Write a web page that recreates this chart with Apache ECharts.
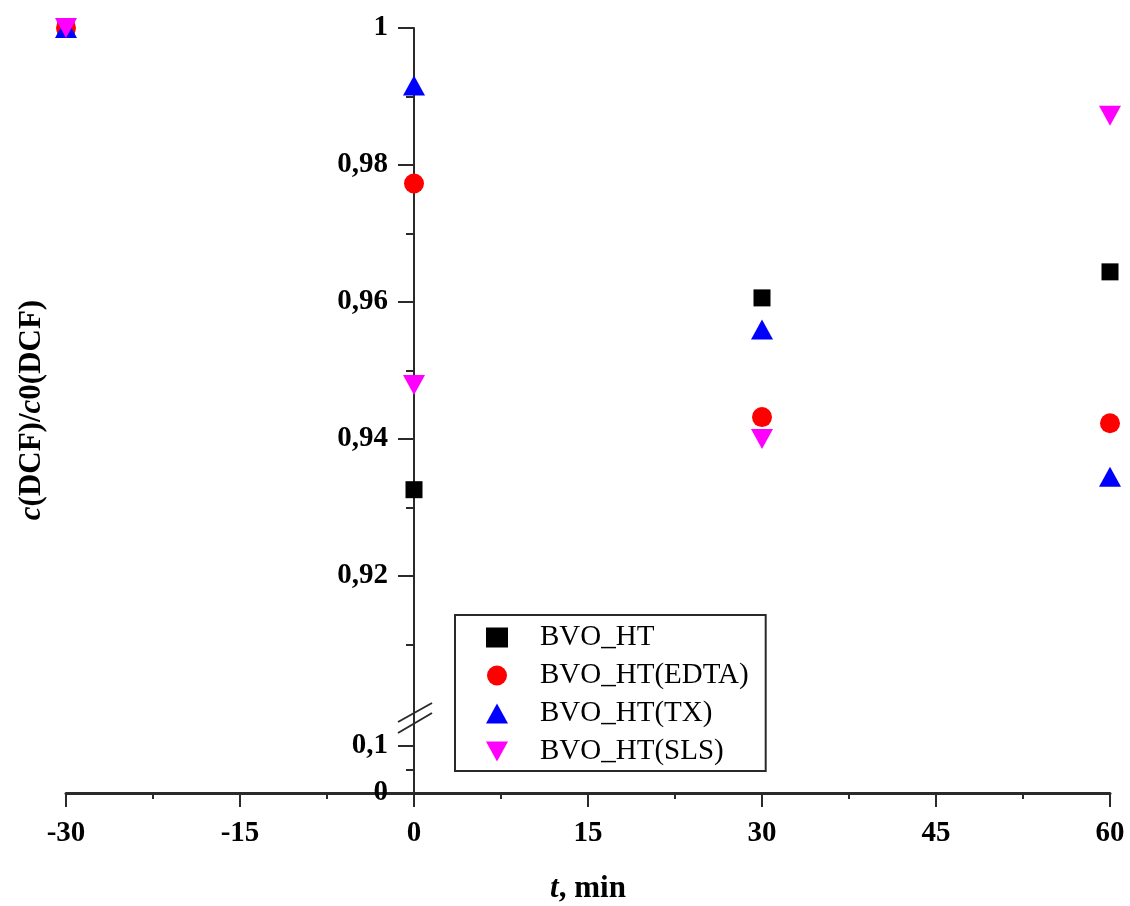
<!DOCTYPE html>
<html>
<head>
<meta charset="utf-8">
<script src="https://cdn.jsdelivr.net/npm/echarts@6/dist/echarts.min.js"></script>
<style>
html,body{margin:0;padding:0;background:#fff;}
#chart{width:1130px;height:906px;}
</style>
</head>
<body>
<div id="chart"></div>
<script>
// ---- data ----
var times = [-30, 0, 30, 60];
var seriesNames = ['BVO_HT', 'BVO_HT(EDTA)', 'BVO_HT(TX)', 'BVO_HT(SLS)'];
var valsHT   = [1.0, 0.9326, 0.9606, 0.9644];
var valsEDTA = [1.0, 0.9773, 0.9432, 0.9423];
var valsTX   = [1.0, 0.9916, 0.9560, 0.9345];
var valsSLS  = [1.0, 0.9479, 0.9400, 0.9872];
var upperLabels = [0.92, 0.94, 0.96, 0.98, 1];
var upperMinor = [0.91, 0.93, 0.95, 0.97, 0.99];
var lowerLabels = [0, 0.1];
var lowerMinor = [0.05];

// ---- layout ----
var FONT = '"Liberation Serif", "Times New Roman", serif';
var W = 1130;
var xMin = -30, xMax = 60;
var gLeft = 66, gRight = 20, upTop = 28, upH = 685, lowH = 80;
var lowTop = upTop + upH;
var plotW = W - gLeft - gRight;
var yAxisLeft = gLeft + (0 - xMin) / (xMax - xMin) * plotW; // y axis sits at t = 0

function fmt(v){ return String(Math.round(v*1000)/1000).replace('.', ','); }
function pairs(arr){ return times.map(function(t,i){ return [t, arr[i]]; }); }

var chart = echarts.init(document.getElementById('chart'), null, {renderer:'canvas'});

var LC = '#2a2a2a';
var lbl = {fontFamily: FONT, fontWeight:'bold', fontSize:29, color:'#000'};
function yMain(grid, min, max, labels){
  return {gridIndex:grid, type:'value', position:'left', min:min, max:max,
    axisLine:{show:true, onZero:false, lineStyle:{color:LC, width:2}},
    axisTick:{show:true, length:16, customValues:labels, lineStyle:{color:LC, width:2}},
    axisLabel:Object.assign({customValues:labels, margin:26, formatter:fmt}, lbl),
    splitLine:{show:false}};
}
function yMinor(grid, min, max, vals){
  return {gridIndex:grid, type:'value', position:'left', offset:0, min:min, max:max,
    axisLine:{show:false, onZero:false},
    axisTick:{show:true, length:8, customValues:vals, lineStyle:{color:LC, width:2}},
    axisLabel:{show:false}, splitLine:{show:false}};
}
function yHidden(grid, min, max){
  return {gridIndex:grid, type:'value', min:min, max:max, show:false};
}
function xHidden(grid, min, max){
  return {gridIndex:grid, type:'value', min:min, max:max, show:false};
}

var option = {
  backgroundColor:'#fff',
  animation:false,
  grid:[
    {left:gLeft, right:gRight, top:upTop, height:upH, outerBoundsMode:'none'},      // 0 upper data
    {left:gLeft, right:gRight, top:lowTop, height:lowH, outerBoundsMode:'none'},     // 1 lower (x axis)
    {left:yAxisLeft, right:gRight, top:upTop, height:upH, outerBoundsMode:'none'},   // 2 upper y axis holder
    {left:yAxisLeft, right:gRight, top:lowTop, height:lowH, outerBoundsMode:'none'}  // 3 lower y axis holder
  ],
  xAxis:[
    xHidden(0, xMin, xMax),
    {gridIndex:1, type:'value', min:xMin, max:xMax, interval:15,
     axisLine:{show:true, onZero:false, lineStyle:{color:LC, width:3}},
     axisTick:{show:true, inside:false, length:14, lineStyle:{color:LC, width:2}},
     minorTick:{show:true, splitNumber:2, length:6, lineStyle:{color:LC, width:2}},
     splitLine:{show:false}, minorSplitLine:{show:false},
     axisLabel:Object.assign({margin:26, formatter:function(v){return String(v);}}, lbl),
     name:'{i|t}{n|, min}', nameLocation:'middle', nameGap:80,
     nameTextStyle:{rich:{
       i:{fontFamily:FONT, fontWeight:'bold', fontStyle:'italic', fontSize:31, color:'#000'},
       n:{fontFamily:FONT, fontWeight:'bold', fontSize:31, color:'#000'}
     }}
    },
    xHidden(2, 0, 1),
    xHidden(3, 0, 1)
  ],
  yAxis:[
    yHidden(0, 0.9, 1.0),          // 0 data axis upper
    yHidden(1, 0, 0.17),           // 1 lower grid
    yMain(2, 0.9, 1.0, upperLabels),  // 2
    yMinor(2, 0.9, 1.0, upperMinor),  // 3
    yMain(3, 0, 0.17, lowerLabels),   // 4
    yMinor(3, 0, 0.17, lowerMinor)    // 5
  ],
  legend:{
    left:455, top:615, orient:'vertical',
    borderColor:LC, borderWidth:2, borderRadius:0,
    padding:[8, 17, 5, 31],
    itemGap:9, itemWidth:22, itemHeight:20,
    formatter:'{t|{name}}',
    textStyle:{fontFamily:FONT, fontSize:29, color:'#000', rich:{t:{fontFamily:FONT, fontSize:29, lineHeight:30, color:'#000', padding:[0,0,0,27]}}},
    data:seriesNames
  },
  series:[
    {name:seriesNames[0], type:'scatter', xAxisIndex:0, yAxisIndex:0, clip:false, symbol:'rect', symbolSize:17,
     itemStyle:{color:'#000', opacity:1}, data:pairs(valsHT)},
    {name:seriesNames[1], type:'scatter', xAxisIndex:0, yAxisIndex:0, clip:false, symbol:'circle', symbolSize:20,
     itemStyle:{color:'#ff0000', opacity:1}, data:pairs(valsEDTA)},
    {name:seriesNames[2], type:'scatter', xAxisIndex:0, yAxisIndex:0, clip:false, symbol:'triangle', symbolSize:[22,20],
     itemStyle:{color:'#0000ff', opacity:1}, data:pairs(valsTX)},
    {name:seriesNames[3], type:'scatter', xAxisIndex:0, yAxisIndex:0, clip:false, symbol:'path://M0,0 L10,0 L5,9 Z', symbolSize:[22,20],
     itemStyle:{color:'#ff00ff', opacity:1}, data:pairs(valsSLS)}
  ],
  graphic:[
    {type:'text', x:32, y:410, rotation:Math.PI/2,
     style:{text:'{i|c}{n|(DCF)/}{i|c}{s|0}{n|(DCF)}', align:'center', verticalAlign:'middle',
       rich:{
         i:{fontFamily:FONT, fontWeight:'bold', fontStyle:'italic', fontSize:31, fill:'#000'},
         n:{fontFamily:FONT, fontWeight:'bold', fontSize:31, fill:'#000'},
         s:{fontFamily:FONT, fontWeight:'bold', fontSize:31, fill:'#000'}
       }}},
    {type:'line', shape:{x1:yAxisLeft-16, y1:lowTop+9, x2:yAxisLeft+18, y2:lowTop-10}, style:{stroke:LC, lineWidth:2}},
    {type:'line', shape:{x1:yAxisLeft-16, y1:lowTop+20, x2:yAxisLeft+18, y2:lowTop}, style:{stroke:LC, lineWidth:2}}
  ]
};
chart.setOption(option);
</script>
</body>
</html>
